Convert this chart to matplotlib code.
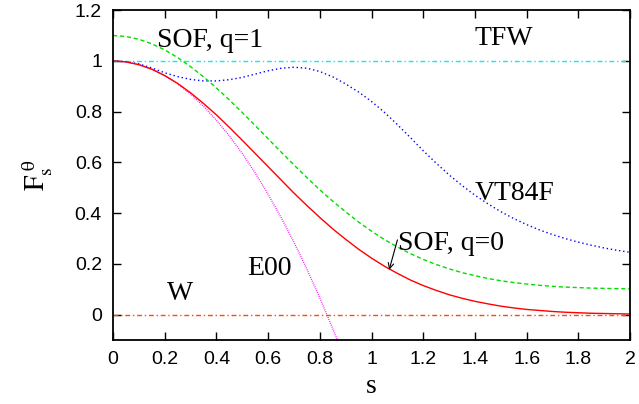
import matplotlib
matplotlib.use("Agg")
import matplotlib.pyplot as plt
import numpy as np

serif = "Liberation Serif"
sans = "Liberation Sans"
plt.rcParams["mathtext.fontset"] = "stix"

# s grid of the read-off points (step 0.05)
s = [round(0.05 * i, 2) for i in range(41)]

sof_q0 = [1.000, 0.996, 0.985, 0.967, 0.942, 0.911, 0.874, 0.832, 0.787, 0.738,
          0.687, 0.635, 0.583, 0.531, 0.479, 0.430, 0.383, 0.338, 0.297, 0.258,
          0.223, 0.191, 0.163, 0.137, 0.115, 0.096, 0.079, 0.065, 0.053, 0.043,
          0.034, 0.027, 0.021, 0.017, 0.013, 0.010, 0.008, 0.006, 0.005, 0.004, 0.003]
sof_q1 = [1.100, 1.096, 1.085, 1.067, 1.043, 1.013, 0.977, 0.937, 0.893, 0.846,
          0.796, 0.745, 0.693, 0.641, 0.590, 0.540, 0.492, 0.447, 0.405, 0.365,
          0.329, 0.296, 0.267, 0.241, 0.218, 0.198, 0.181, 0.166, 0.154, 0.143,
          0.134, 0.127, 0.121, 0.116, 0.112, 0.109, 0.107, 0.105, 0.104, 0.103, 0.102]
vt84f = [1.000, 0.997, 0.988, 0.972, 0.953, 0.938, 0.927, 0.921, 0.921, 0.926,
         0.935, 0.948, 0.961, 0.971, 0.975, 0.971, 0.958, 0.937, 0.909, 0.877,
         0.840, 0.797, 0.749, 0.698, 0.646, 0.597, 0.551, 0.509, 0.471, 0.437,
         0.406, 0.379, 0.355, 0.334, 0.316, 0.300, 0.286, 0.274, 0.263, 0.254, 0.246]
# E00 only down to the bottom of the frame
s_e00 = s[:19]
e00 = [1.000, 0.996, 0.985, 0.967, 0.942, 0.909, 0.869, 0.821, 0.766, 0.704,
       0.635, 0.558, 0.474, 0.383, 0.285, 0.179, 0.066, -0.055, -0.183]
tfw = [1.0, 1.0]
w = [0.0, 0.0]
s_flat = [0.0, 2.0]

xticks = [0, 0.2, 0.4, 0.6, 0.8, 1, 1.2, 1.4, 1.6, 1.8, 2]
xtick_labels = ["0", "0.2", "0.4", "0.6", "0.8", "1", "1.2", "1.4", "1.6", "1.8", "2"]
yticks = [0, 0.2, 0.4, 0.6, 0.8, 1, 1.2]
ytick_labels = ["0", "0.2", "0.4", "0.6", "0.8", "1", "1.2"]

fig = plt.figure(figsize=(6.39, 4.04), dpi=100)
ax = fig.add_axes([0.177, 0.158, 0.809, 0.817])

ax.plot(s_flat, w, color="#ff4a00", lw=1.0, dashes=(3.5, 2, 1, 2))
ax.plot(s_flat, tfw, color="#00f0f0", lw=1.0, dashes=(3.5, 2, 1, 2))
ax.plot(s_e00, e00, color="#ff00ff", lw=1.0, dashes=(0.6, 0.9))
ax.plot(s, vt84f, color="#0000ff", lw=1.0, dashes=(1, 2))
ax.plot(s, sof_q1, color="#00dd00", lw=1.0, dashes=(3, 2))
ax.plot(s, sof_q0, color="#ff0000", lw=1.0)

tfont = dict(family=serif, fontsize=20, va="baseline", ha="left")
ax.text(0.17, 1.055, "SOF, q=1", **tfont)
ax.text(1.40, 1.063, "TFW", **tfont)
ax.text(1.40, 0.453, "VT84F", **tfont)
ax.text(1.103, 0.256, "SOF, q=0", **tfont)
ax.text(0.518, 0.157, "E00", **tfont)
ax.text(0.209, 0.059, "W", **tfont)
ax.annotate("", xy=(1.068, 0.177), xytext=(1.10, 0.295),
            arrowprops=dict(arrowstyle="->", lw=0.8, color="black",
                            shrinkA=0, shrinkB=0))

ax.set_xlim(0, 2)
ax.set_ylim(-0.1, 1.2)
ax.set_xticks(xticks)
ax.set_xticklabels(xtick_labels, fontname=sans, fontsize=14)
ax.set_yticks(yticks)
ax.set_yticklabels(ytick_labels, fontname=sans, fontsize=14)
ax.tick_params(direction="in", top=True, right=True, length=6, width=1, pad=8)
for sp in ax.spines.values():
    sp.set_linewidth(1.3)

ax.set_xlabel("s", fontname=serif, fontsize=20, labelpad=4)
ax.set_ylabel(r"$\mathrm{F}_{\mathrm{s}}^{\ \mathrm{\theta}}$", fontsize=20, labelpad=14)

fig.savefig("out.png", dpi=100)
